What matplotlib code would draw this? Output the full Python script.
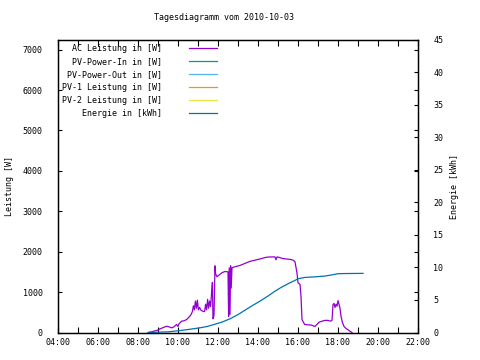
import matplotlib
matplotlib.use("Agg")
import matplotlib.pyplot as plt
from matplotlib.ticker import MultipleLocator, FuncFormatter

plt.rcParams['font.family'] = ['DejaVu Sans Mono']
plt.rcParams['font.size'] = 6

# AC Leistung (time in hours, power in W)
ac_t = [8.50, 8.70, 8.85, 9.00, 9.10, 9.25, 9.43, 9.55, 9.68, 9.80, 9.93, 10.00, 10.05,
        10.18, 10.30, 10.43, 10.55, 10.65, 10.72, 10.77, 10.82, 10.87, 10.92, 10.97, 11.02,
        11.08, 11.15, 11.27, 11.33, 11.38, 11.43, 11.48, 11.53, 11.58, 11.63, 11.68, 11.72,
        11.75, 11.80, 11.85, 11.88, 11.95, 12.05, 12.20, 12.35, 12.50, 12.53, 12.56, 12.60,
        12.63, 12.66, 12.70, 12.80, 13.10, 13.35, 13.60, 13.85, 14.10, 14.40, 14.60, 14.85,
        14.90, 14.95, 15.05, 15.23, 15.40, 15.60, 15.75, 15.85, 15.95, 16.00, 16.10, 16.15,
        16.20, 16.33, 16.50, 16.65, 16.85, 17.05, 17.20, 17.35, 17.50, 17.62, 17.70, 17.75,
        17.80, 17.85, 17.90, 17.95, 18.00, 18.05, 18.10, 18.15, 18.22, 18.30, 18.40, 18.50,
        18.60, 18.70]
ac_p = [0, 20, 40, 60, 90, 120, 155, 140, 115, 140, 200, 150, 215,
        280, 290, 320, 380, 440, 520, 660, 560, 780, 600, 800, 560,
        620, 550, 520, 520, 700, 560, 820, 600, 780, 640, 990, 1240,
        340, 420, 1650, 1450, 1380, 1420, 1480, 1510, 1500, 400, 1600, 450,
        1650, 1100, 1600, 1620, 1660, 1710, 1760, 1790, 1820, 1860, 1870, 1870,
        1800, 1870, 1860, 1830, 1820, 1810, 1790, 1750, 1470, 1230, 1190, 900,
        320, 200, 190, 185, 150, 255, 280, 300, 300, 280, 300, 690,
        720, 620, 700, 650, 790, 700, 600, 400, 250, 150, 100, 70,
        30, 0]

# Energie (time in hours, energy in kWh)
en_t = [8.55, 9.50, 10.10, 10.60, 11.10, 11.45, 11.75, 12.20, 12.60, 13.00, 13.35, 13.70,
        14.10, 14.50, 14.85, 15.20, 15.60, 15.85, 16.00, 16.35, 16.85, 17.35, 17.70, 18.00,
        18.50, 19.25]
en_e = [0.0, 0.1, 0.3, 0.5, 0.72, 0.92, 1.18, 1.6, 2.1, 2.75, 3.43, 4.1,
        4.82, 5.6, 6.35, 7.0, 7.64, 8.0, 8.26, 8.46, 8.55, 8.67, 8.85, 9.03,
        9.06, 9.08]

labels = ["AC Leistung in [W]", "PV-Power-In in [W]", "PV-Power-Out in [W]",
          "PV-1 Leistung in [W]", "PV-2 Leistung in [W]", "Energie in [kWh]"]
colors = ["#9400d3", "#009e73", "#56b4e9", "#e69f00", "#f0e442", "#0072b2"]

fig = plt.figure(figsize=(4.8, 3.6), dpi=100)
ax = fig.add_axes([58/480, 1-332.5/360, 360/480, (332.5-39.5)/360])
ax2 = ax.twinx()

w = max(len(l) for l in labels)
lab = [l.rjust(w) for l in labels]

h = []
h += ax.plot(ac_t, ac_p, color=colors[0], lw=0.9, label=lab[0])
for i in range(1, 5):
    h += ax.plot([], [], color=colors[i], lw=0.9, label=lab[i])
h += ax2.plot(en_t, en_e, color=colors[5], lw=0.9, label=lab[5])

ax.set_xlim(4, 22)
ax.set_ylim(0, 7250)
ax2.set_ylim(0, 45)

ax.xaxis.set_major_locator(MultipleLocator(2))
ax.xaxis.set_minor_locator(MultipleLocator(1))
ax.xaxis.set_major_formatter(FuncFormatter(lambda v, p: "%02d:00" % int(round(v))))
ax.yaxis.set_major_locator(MultipleLocator(1000))
ax2.yaxis.set_major_locator(MultipleLocator(5))

ax.tick_params(axis='x', which='both', direction='in', length=4, width=0.8, top=True, pad=4)
ax.tick_params(axis='y', direction='in', length=3, width=0.8, right=True, pad=11)
ax2.tick_params(axis='y', direction='in', length=3, width=0.8, pad=11)
for a in (ax, ax2):
    for s in a.spines.values():
        s.set_linewidth(0.9)

ax.set_ylabel("Leistung [W]", labelpad=6)
ax2.set_ylabel("Energie [kWh]", labelpad=5)
fig.text(224/480, 1-18/360, "Tagesdiagramm vom 2010-10-03", ha='center', va='center')

ax.legend(h, lab, loc='upper left', frameon=False, markerfirst=False,
          handlelength=3.4, handletextpad=3.2, borderpad=0, borderaxespad=0.5,
          labelspacing=0.48, prop={'family': 'DejaVu Sans Mono', 'size': 6})

fig.savefig("out.png", dpi=100)
